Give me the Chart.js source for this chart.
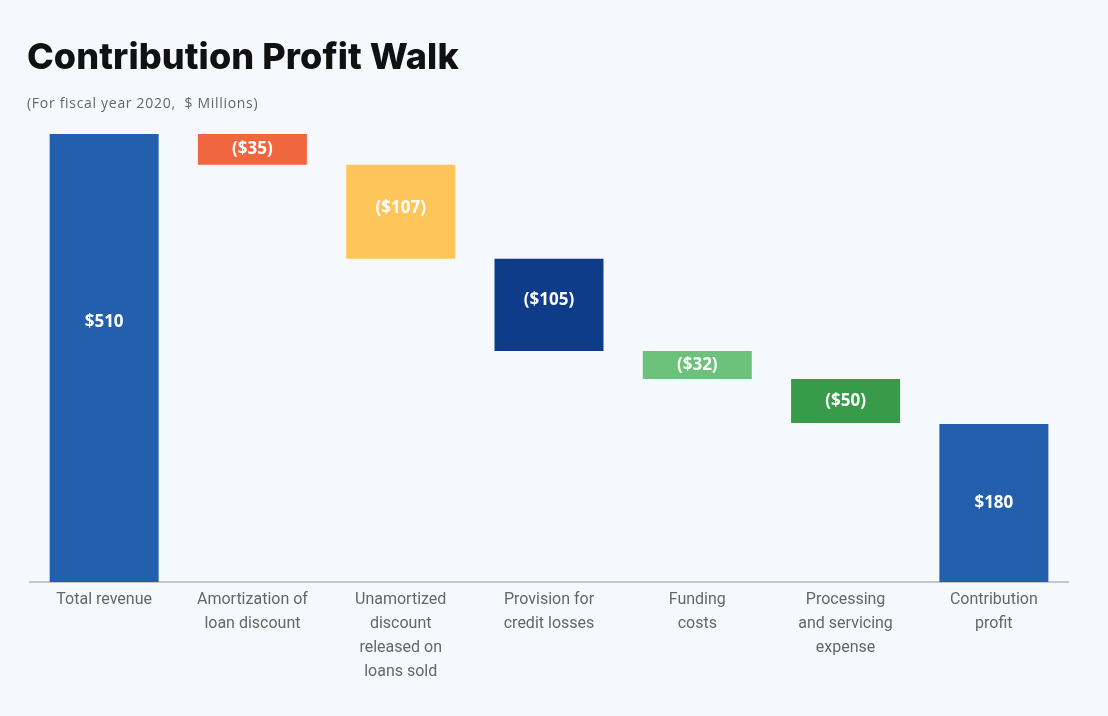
<!DOCTYPE html>
<html>
<head>
<meta charset="utf-8">
<script src="https://cdn.jsdelivr.net/npm/chart.js@4.4.1/dist/chart.umd.min.js"></script>
<style>
  html, body { margin: 0; padding: 0; background: #f5f8fc; }
  #wrap { position: relative; width: 1108px; height: 716px; overflow: hidden; background: #f5f8fc; }
  #title { position: absolute; left: 27px; top: 34px; font-family: Inter, "Open Sans", sans-serif; font-weight: 800; font-size: 36px; color: #111; letter-spacing: 0.1px; white-space: nowrap; }
  #subtitle { position: absolute; left: 27px; top: 93px; font-family: "Open Sans", Roboto, sans-serif; font-size: 14px; color: #666; letter-spacing: 0.7px; white-space: nowrap; }
  canvas { position: absolute; left: 0; top: 0; }
</style>
</head>
<body>
<div id="wrap">
  <canvas id="c" width="1108" height="716"></canvas>
  <div id="title">Contribution Profit Walk</div>
  <div id="subtitle">(For fiscal year 2020,&nbsp; $ Millions)</div>
</div>
<script>
const categories = [
  ["Total revenue"],
  ["Amortization of", "loan discount"],
  ["Unamortized", "discount", "released on", "loans sold"],
  ["Provision for", "credit losses"],
  ["Funding", "costs"],
  ["Processing", "and servicing", "expense"],
  ["Contribution", "profit"]
];
const changes = [510, -35, -107, -105, -32, -50, 180];
const isTotal = [true, false, false, false, false, false, true];
const valueLabels = ["$510", "($35)", "($107)", "($105)", "($32)", "($50)", "$180"];
const barColors = ["#245fad", "#f0663f", "#fec65a", "#0e3c88", "#6cc27a", "#389b4a", "#245fad"];

// build floating ranges for the waterfall
const ranges = [];
let running = 0;
changes.forEach((v, i) => {
  if (isTotal[i]) { ranges.push([0, v]); running = v; }
  else { ranges.push([running + v, running]); running += v; }
});

const labelAnchor = [0.42, 0.5, 0.46, 0.45, 0.5, 0.5, 0.5];

const valueLabelPlugin = {
  id: 'valueLabels',
  afterDatasetsDraw(chart) {
    const ctx = chart.ctx;
    const meta = chart.getDatasetMeta(0);
    ctx.save();
    ctx.fillStyle = '#ffffff';
    ctx.font = '700 17px "Open Sans", sans-serif';
    ctx.textAlign = 'center';
    ctx.textBaseline = 'middle';
    meta.data.forEach((bar, i) => {
      const top = Math.min(bar.y, bar.base);
      const bottom = Math.max(bar.y, bar.base);
      const y = top + (bottom - top) * labelAnchor[i];
      ctx.fillText(valueLabels[i], bar.x, y);
    });
    ctx.restore();
  }
};

new Chart(document.getElementById('c'), {
  type: 'bar',
  data: {
    labels: categories,
    datasets: [{
      data: ranges,
      backgroundColor: barColors,
      borderWidth: 0,
      borderSkipped: false,
      barPercentage: 0.735,
      categoryPercentage: 1.0
    }]
  },
  options: {
    responsive: false,
    animation: false,
    layout: { padding: { left: 30, right: 40, top: 134, bottom: 0 } },
    plugins: { legend: { display: false }, tooltip: { enabled: false }, title: { display: false } },
    scales: {
      x: {
        grid: { display: true, drawOnChartArea: false, drawTicks: false, color: 'transparent' },
        border: { display: true, color: '#c4c6c9', width: 2 },
        ticks: {
          color: '#666666',
          font: { family: 'Roboto, "Open Sans", sans-serif', size: 16, lineHeight: 1.5 },
          padding: 6,
          maxRotation: 0,
          autoSkip: false
        },
        afterFit(scale) { scale.height = 134; }
      },
      y: {
        display: false,
        min: 0,
        max: 510
      }
    }
  },
  plugins: [valueLabelPlugin]
});
</script>
</body>
</html>
